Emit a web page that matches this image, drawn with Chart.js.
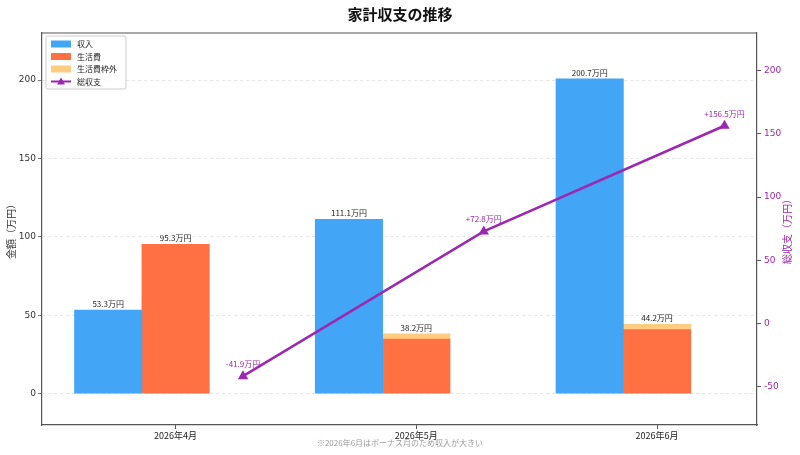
<!DOCTYPE html>
<html>
<head>
<meta charset="utf-8">
<script src="https://cdn.jsdelivr.net/npm/chart.js@4"></script>
<style>
  html, body { margin: 0; padding: 0; background: #fff; }
  #wrap { width: 800px; height: 455px; }
</style>
</head>
<body>
<div id="wrap"><canvas id="chart" width="800" height="455"></canvas></div>
<script>
const months = ['2026年4月', '2026年5月', '2026年6月'];
const income = [53.3, 111.1, 200.7];
const living = [95.3, 34.8, 40.8];
const extra = [0, 3.4, 3.4];
const expenseTotal = [95.3, 38.2, 44.2];
const net = [-41.9, 72.8, 156.5];
const leftTicks = [0, 50, 100, 150, 200];
const rightTicks = [-50, 0, 50, 100, 150, 200];

const FONT = "'DejaVu Sans', 'Noto Sans CJK JP', sans-serif";
const JP = "'Noto Sans CJK JP', 'DejaVu Sans', sans-serif";
const W = 0.28;
const PURPLE = '#9C27B0';

const colors = {
    income: '#42A5F5',
    living: '#FF7043',
    extra: '#FFCC80'
};

// labels, legend, title, footnote, top spine, right axis title
const decorations = {
    id: 'decorations',
    afterDatasetsDraw(chart) {
        const ctx = chart.ctx;
        const area = chart.chartArea;
        ctx.save();

        // top spine
        ctx.strokeStyle = '#555';
        ctx.lineWidth = 1.2;
        ctx.beginPath();
        ctx.moveTo(area.left, area.top);
        ctx.lineTo(area.right, area.top);
        ctx.stroke();

        // bar value labels
        ctx.font = '8px ' + JP;
        ctx.fillStyle = '#222';
        ctx.textAlign = 'center';
        ctx.textBaseline = 'bottom';
        chart.getDatasetMeta(1).data.forEach((bar, i) => {
            ctx.fillText(income[i] + '万円', bar.x, bar.y - 2);
        });
        chart.getDatasetMeta(3).data.forEach((bar, i) => {
            ctx.fillText(expenseTotal[i] + '万円', bar.x, bar.y - 2);
        });

        // net labels
        ctx.fillStyle = PURPLE;
        chart.getDatasetMeta(0).data.forEach((pt, i) => {
            const v = net[i];
            ctx.fillText((v > 0 ? '+' : '') + v + '万円', pt.x, pt.y - 8);
        });

        // legend
        const lx = area.left + 4, ly = area.top + 3;
        ctx.fillStyle = 'rgba(255,255,255,0.85)';
        ctx.strokeStyle = '#ccc';
        ctx.lineWidth = 1;
        ctx.beginPath();
        ctx.roundRect(lx, ly, 80, 53, 2);
        ctx.fill();
        ctx.stroke();
        const items = [
            { label: '収入', color: colors.income },
            { label: '生活費', color: colors.living },
            { label: '生活費枠外', color: colors.extra },
            { label: '総収支', color: PURPLE, line: true }
        ];
        ctx.textAlign = 'left';
        ctx.textBaseline = 'middle';
        ctx.font = '8px ' + JP;
        items.forEach((it, i) => {
            const y = ly + 8 + i * 12.5;
            if (it.line) {
                ctx.strokeStyle = it.color;
                ctx.lineWidth = 2;
                ctx.beginPath();
                ctx.moveTo(lx + 5, y);
                ctx.lineTo(lx + 25, y);
                ctx.stroke();
                ctx.fillStyle = it.color;
                ctx.beginPath();
                ctx.moveTo(lx + 15, y - 4);
                ctx.lineTo(lx + 19, y + 3);
                ctx.lineTo(lx + 11, y + 3);
                ctx.closePath();
                ctx.fill();
            } else {
                ctx.fillStyle = it.color;
                ctx.fillRect(lx + 5, y - 3.5, 20, 7);
            }
            ctx.fillStyle = '#222';
            ctx.fillText(it.label, lx + 31, y);
        });

        // title
        ctx.textAlign = 'center';
        ctx.textBaseline = 'middle';
        ctx.fillStyle = '#111';
        ctx.font = 'bold 15px ' + JP;
        ctx.fillText('家計収支の推移', 400, 14);

        // footnote
        ctx.fillStyle = '#999';
        ctx.font = '8px ' + JP;
        ctx.fillText('※2026年6月はボーナス月のため収入が大きい', 400, 443);

        // right axis title (reads bottom to top like the left one)
        ctx.translate(787, (area.top + area.bottom) / 2);
        ctx.rotate(-Math.PI / 2);
        ctx.fillStyle = PURPLE;
        ctx.font = '10px ' + JP;
        ctx.fillText('総収支（万円）', 0, 0);

        ctx.restore();
    }
};

const ctx = document.getElementById('chart').getContext('2d');
const chart = new Chart(ctx, {
    type: 'bar',
    data: {
        datasets: [
            {
                type: 'line',
                label: '総収支',
                data: net.map((v, i) => ({ x: i + W, y: v })),
                yAxisID: 'y2',
                borderColor: PURPLE,
                backgroundColor: PURPLE,
                borderWidth: 2.5,
                pointStyle: 'triangle',
                pointRadius: 6,
                pointBorderWidth: 0,
                tension: 0,
                order: 0
            },
            {
                label: '収入',
                data: income.map((v, i) => ({ x: i - W, y: v })),
                backgroundColor: colors.income,
                yAxisID: 'y',
                stack: 'inc',
                order: 1
            },
            {
                label: '生活費',
                data: living.map((v, i) => ({ x: i, y: v })),
                backgroundColor: colors.living,
                yAxisID: 'y',
                stack: 'exp',
                order: 1
            },
            {
                label: '生活費枠外',
                data: extra.map((v, i) => ({ x: i, y: v })),
                backgroundColor: colors.extra,
                yAxisID: 'y',
                stack: 'exp',
                order: 1
            }
        ]
    },
    options: {
        responsive: false,
        animation: false,
        layout: { padding: { top: 33, left: 0, right: 0, bottom: 0 } },
        datasets: {
            bar: { grouped: false, barThickness: 67.4, borderWidth: 0 }
        },
        plugins: {
            legend: { display: false },
            tooltip: { enabled: false }
        },
        scales: {
            x: {
                type: 'linear',
                min: -0.555,
                max: 2.415,
                offset: false,
                afterBuildTicks: (scale) => {
                    scale.ticks = months.map((m, i) => ({ value: i }));
                },
                afterFit: (scale) => { scale.height = 30; },
                ticks: {
                    callback: (v) => months[v],
                    font: { family: JP, size: 9 },
                    color: '#222',
                    padding: 1,
                    maxRotation: 0,
                    autoSkip: false
                },
                grid: { offset: false, drawOnChartArea: false, tickLength: 4, tickColor: '#555' },
                border: { color: '#555', width: 1.2 }
            },
            y: {
                position: 'left',
                stacked: true,
                min: -20,
                max: 230,
                afterBuildTicks: (scale) => {
                    scale.ticks = leftTicks.map(v => ({ value: v }));
                },
                afterFit: (scale) => { scale.width = 42; },
                ticks: { font: { family: FONT, size: 9 }, color: '#333', padding: 2 },
                grid: { color: '#ddd', tickLength: 4, tickColor: '#555', lineWidth: 0.8 },
                border: { color: '#555', width: 1.2, dash: [3, 3] },
                title: {
                    display: true,
                    text: '金額（万円）',
                    font: { family: JP, size: 10 },
                    color: '#333',
                    padding: { top: 5, bottom: 0 }
                }
            },
            y2: {
                position: 'right',
                min: -80.6,
                max: 230,
                afterBuildTicks: (scale) => {
                    scale.ticks = rightTicks.map(v => ({ value: v }));
                },
                afterFit: (scale) => { scale.width = 43; },
                ticks: { font: { family: FONT, size: 9 }, color: PURPLE, padding: 3 },
                grid: { drawOnChartArea: false, tickLength: 4, tickColor: '#555' },
                border: { color: '#555', width: 1.2 }
            }
        }
    },
    plugins: [decorations]
});
</script>
</body>
</html>
